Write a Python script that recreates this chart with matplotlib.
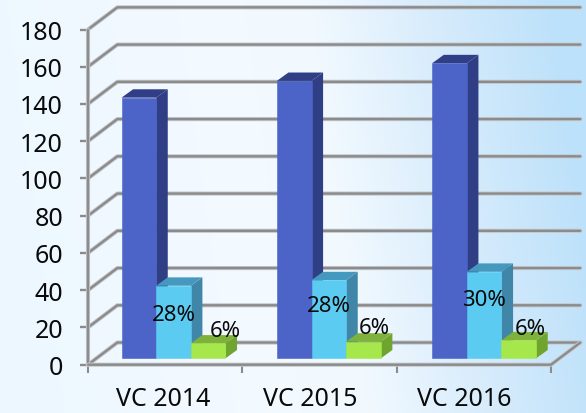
import numpy as np
import matplotlib
matplotlib.use("Agg")
import matplotlib.pyplot as plt
from matplotlib.patches import Polygon
import matplotlib.patheffects as pe

categories = ["VC 2014", "VC 2015", "VC 2016"]
blue_values = [140, 149, 158.5]
cyan_values = [39, 42, 46.5]
green_values = [8, 9, 9.7]
cyan_labels = ["28%", "28%", "30%"]
green_labels = ["6%", "6%", "6%"]
cyan_label_y = [23.5, 28.3, 31.6]
green_label_y = [15.2, 16.6, 16.2]
green_label_dx = [0.0, -0.04, -0.04]
y_ticks = list(range(0, 181, 20))
category_label_x = [0.49, 1.44, 2.44]

W, H = 586, 414
plt.rcParams['font.family'] = ['Noto Sans', 'DejaVu Sans']
fig = plt.figure(figsize=(W / 100, H / 100), dpi=100)

# background gradient
bg = fig.add_axes([0, 0, 1, 1], zorder=0)
bg.axis('off')
xx, yy = np.meshgrid(np.linspace(0, 1, 293), np.linspace(0, 1, 207))
t = xx + 0.10 * (1 - yy) - 0.05
stops = [0, 0.06, 0.35, 0.58, 0.78, 1.0]
cols = np.array([[236, 247, 255], [238, 248, 255], [243, 249, 255],
                 [241, 249, 255], [216, 236, 252], [188, 225, 250]]) / 255
img = np.dstack([np.interp(t, stops, cols[:, i]) for i in range(3)])
bg.imshow(img, aspect='auto', extent=(0, 1, 0, 1), origin='upper')

ax = fig.add_axes([88 / W, (H - 365.7) / H, 463 / W, 335.2 / H], zorder=1)
ax.patch.set_alpha(0)
ax.set_xlim(0, 3)
ax.set_ylim(0, 180)
for s in ax.spines.values():
    s.set_visible(False)

DX, DY = 0.19, 11.9   # depth of the chart floor
GRID = '#8b8b8b'
effects = [pe.withStroke(linewidth=3.0, foreground='#c4c8cd')]
kw = dict(color=GRID, lw=1.7, clip_on=False, solid_capstyle='round', path_effects=effects, zorder=2)
for v in y_ticks:
    ax.plot([0, DX, 3 + DX], [v, v + DY, v + DY], **kw)
ax.plot([0, 0], [0, 180], **kw)
ax.plot([0, 3, 3 + DX], [0, 0, DY], **kw)

# bars
BAR_W = 0.2245
PITCH = 1.0065
BX, BY = 0.054, 3.4       # bar front offset on the floor
PX, PY = 0.075, 4.5       # bar depth
SERIES = [
    (blue_values, -1.5, '#4c64c8', '#2f3e85', '#2f3e85'),
    (cyan_values, -0.5, '#5ccbf2', '#4599be', '#3f86a8'),
    (green_values, 0.5, '#a6e84c', '#7fb23a', '#6fa52f'),
]
z = 3
for i in range(len(categories)):
    c = 0.5 + BX + i * PITCH
    for vals, off, front, top, side in SERIES:
        x0 = c + off * BAR_W
        x1 = x0 + BAR_W
        y0 = BY
        y1 = BY + vals[i]
        ax.add_patch(Polygon([(x1, y0), (x1 + PX, y0 + PY), (x1 + PX, y1 + PY), (x1, y1)],
                             fc=side, ec='none', clip_on=False, zorder=z))
        ax.add_patch(Polygon([(x0, y1), (x1, y1), (x1 + PX, y1 + PY), (x0 + PX, y1 + PY)],
                             fc=top, ec='none', clip_on=False, zorder=z))
        ax.add_patch(Polygon([(x0, y0), (x1, y0), (x1, y1), (x0, y1)],
                             fc=front, ec=front, lw=0.4, clip_on=False, zorder=z))
        z += 0.01
    ax.text(c, BY + cyan_label_y[i], cyan_labels[i], ha='center', va='center',
            fontsize=16, color='#0a0a0a', zorder=6)
    ax.text(c + 1.5 * BAR_W + green_label_dx[i], BY + green_label_y[i], green_labels[i],
            ha='center', va='center', fontsize=16, color='#0a0a0a', zorder=6)

ax.set_yticks(y_ticks)
ax.set_yticklabels([str(v) for v in y_ticks], fontsize=18, color='#0a0a0a')
ax.tick_params(axis='y', length=6, width=1.7, color=GRID, pad=12)
ax.set_xticks(range(4))
ax.set_xticklabels([''] * 4)
ax.tick_params(axis='x', which='major', length=6, width=1.5, color=GRID)
ax.set_xticks(category_label_x, minor=True)
ax.set_xticklabels(categories, minor=True, fontsize=18, color='#0a0a0a')
ax.tick_params(axis='x', which='minor', length=0, pad=15)

fig.savefig('out.png', dpi=100)
